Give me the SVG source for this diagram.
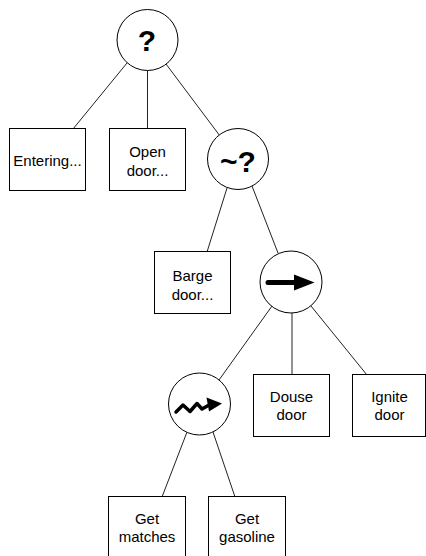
<svg xmlns="http://www.w3.org/2000/svg" width="426" height="556" viewBox="0 0 426 556">
<style>
.edge{stroke:#222;stroke-width:1;fill:none}
.box{fill:#fff;stroke:#000;stroke-width:1}
.circ{fill:#fff;stroke:#000;stroke-width:1}
.lbl{font-family:"Liberation Sans",Arial,sans-serif;font-size:15px;fill:#000;text-anchor:middle}
.sym{font-family:"Liberation Sans",Arial,sans-serif;font-size:30px;font-weight:bold;fill:#000;text-anchor:middle}
</style>
<rect width="426" height="556" fill="#fff"/>
<g id="connectors">
<line class="edge" x1="127" y1="63" x2="73" y2="129"/>
<line class="edge" x1="147.5" y1="70" x2="147.5" y2="129"/>
<line class="edge" x1="166" y1="64" x2="220" y2="136"/>
<line class="edge" x1="227" y1="188" x2="207" y2="252"/>
<line class="edge" x1="252" y1="186" x2="278" y2="253"/>
<line class="edge" x1="272" y1="306" x2="219" y2="380"/>
<line class="edge" x1="292" y1="313" x2="292" y2="375"/>
<line class="edge" x1="311" y1="306" x2="367" y2="375"/>
<line class="edge" x1="187" y1="432" x2="162" y2="497"/>
<line class="edge" x1="213" y1="432" x2="235" y2="497"/>
</g>
<g id="selector">
<circle class="circ" cx="147.5" cy="40" r="30.5"/>
<text class="sym" x="147" y="50.5">?</text>
</g>
<g id="entering">
<rect class="box" x="9.5" y="128.5" width="76" height="62"/>
<text class="lbl" x="47.5" y="166">Entering...</text>
</g>
<g id="open-door">
<rect class="box" x="109.5" y="128.5" width="76" height="62"/>
<text class="lbl" x="147.5" y="157">Open</text>
<text class="lbl" x="147.5" y="175.5">door...</text>
</g>
<g id="random-selector">
<circle class="circ" cx="238" cy="159" r="30.5"/>
<text class="sym" x="238" y="171.5">~?</text>
</g>
<g id="barge-door">
<rect class="box" x="154.5" y="251.5" width="76" height="62"/>
<text class="lbl" x="192.5" y="281">Barge</text>
<text class="lbl" x="192.5" y="299.5">door...</text>
</g>
<g id="sequence">
<circle class="circ" cx="291" cy="282" r="31"/>
<line x1="268" y1="282.5" x2="297" y2="282.5" stroke="#000" stroke-width="5" stroke-linecap="round"/>
<polygon points="294,274.5 314.5,282.5 294,290.5" fill="#000"/>
</g>
<g id="parallel">
<circle class="circ" cx="199.5" cy="404" r="31"/>
<polyline points="176,412 183,405 190,411.5 197,403.5 202,409 210,404.5" fill="none" stroke="#000" stroke-width="3.5" stroke-linejoin="round" stroke-linecap="round"/>
<polygon points="206.5,397.5 222,403.5 209,411.5" fill="#000"/>
</g>
<g id="douse-door">
<rect class="box" x="253.5" y="374.5" width="76" height="62"/>
<text class="lbl" x="291.5" y="402">Douse</text>
<text class="lbl" x="291.5" y="419.5">door</text>
</g>
<g id="ignite-door">
<rect class="box" x="352.5" y="374.5" width="73" height="62"/>
<text class="lbl" x="389.5" y="402">Ignite</text>
<text class="lbl" x="389.5" y="419.5">door</text>
</g>
<g id="get-matches">
<rect class="box" x="108.5" y="496.5" width="77" height="62"/>
<text class="lbl" x="147" y="524">Get</text>
<text class="lbl" x="147" y="541.5">matches</text>
</g>
<g id="get-gasoline">
<rect class="box" x="208.5" y="496.5" width="77" height="62"/>
<text class="lbl" x="247" y="524">Get</text>
<text class="lbl" x="247" y="541.5">gasoline</text>
</g>
</svg>
